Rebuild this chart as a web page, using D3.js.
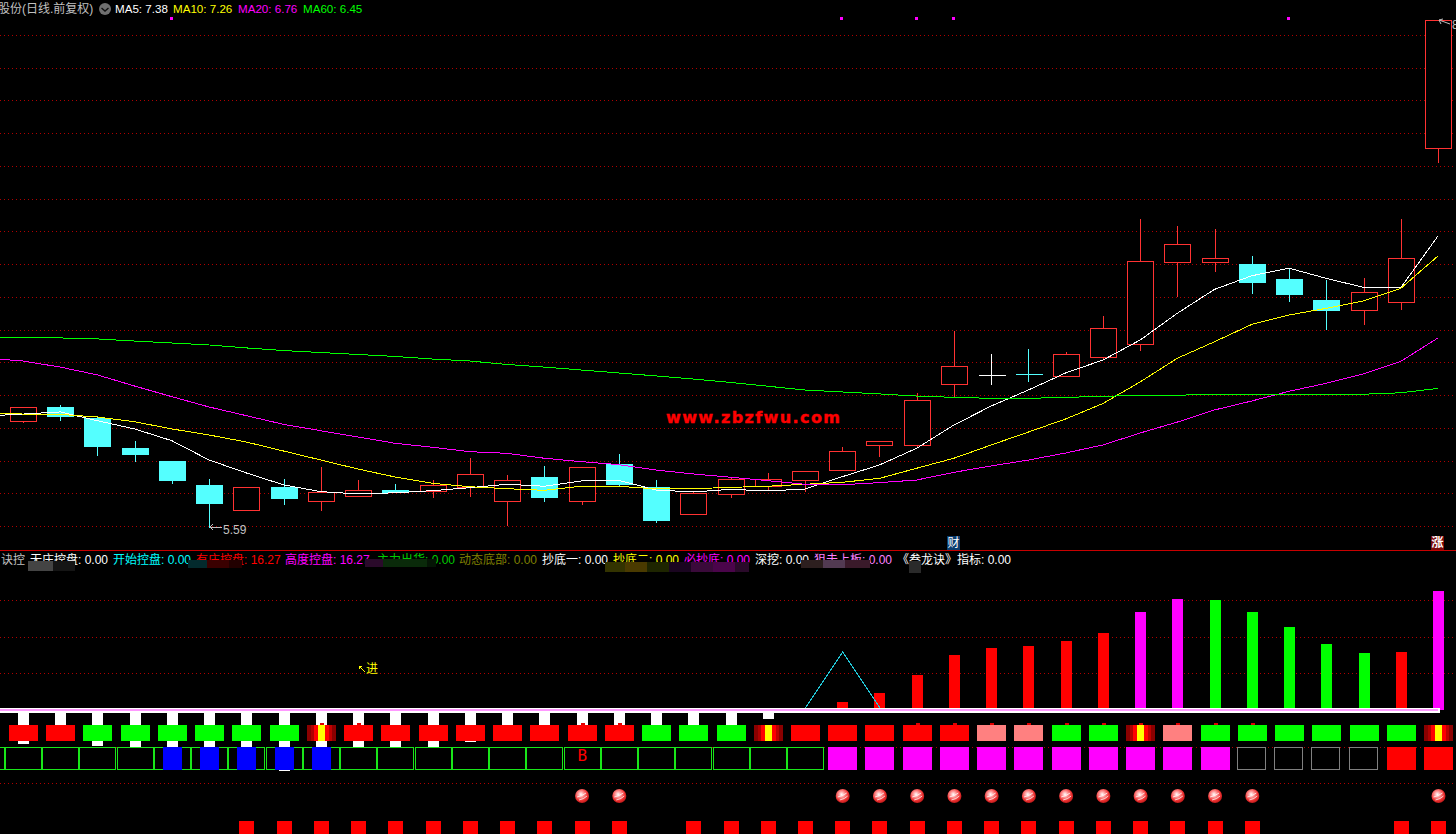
<!DOCTYPE html>
<html><head><meta charset="utf-8">
<script src="https://cdn.jsdelivr.net/npm/d3@7"></script>
<style>
html,body{margin:0;padding:0;background:#000;overflow:hidden}
svg{display:block}
text{font-family:"Liberation Sans","Noto Sans CJK SC",sans-serif;font-size:12px}
</style></head><body>
<script>
// ---- price panel data (day index 0..38) ----
const opens  =[6.243,6.327,6.258,6.077,5.997,5.851,5.696,5.838,5.755,5.785,5.82,5.816,5.838,5.755,5.899,5.755,5.979,5.838,5.675,5.797,5.846,5.883,5.944,6.097,6.097,6.466,6.523,6.528,6.518,6.634,6.714,7.211,7.215,7.201,7.109,6.981,6.918,6.967,7.908];
const closes =[6.325,6.274,6.091,6.042,5.883,5.742,5.836,5.773,5.806,5.818,5.808,5.849,5.918,5.879,5.779,5.959,5.858,5.638,5.80,5.885,5.885,5.934,6.056,6.118,6.368,6.576,6.523,6.526,6.649,6.808,7.217,7.321,7.236,7.093,7.019,6.922,7.028,7.236,8.69];
const highs  =[6.325,6.339,6.266,6.119,5.997,5.887,5.836,5.887,5.96,5.881,5.857,5.881,6.015,5.912,5.967,5.959,6.04,5.881,5.812,5.899,5.924,5.934,6.083,6.118,6.413,6.791,6.651,6.681,6.663,6.883,7.476,7.433,7.415,7.25,7.17,7.103,7.115,7.476,8.69];
const lows   =[6.231,6.243,6.03,5.993,5.858,5.59,5.696,5.728,5.693,5.779,5.802,5.773,5.779,5.602,5.748,5.728,5.844,5.62,5.669,5.773,5.812,5.81,5.944,6.023,6.077,6.386,6.463,6.482,6.518,6.62,6.669,6.997,7.154,7.019,6.97,6.799,6.83,6.922,7.816];
// moving averages, day index -1..38
const ma5 =[6.272,6.284,6.297,6.243,6.193,6.121,6.003,5.924,5.851,5.81,5.796,5.803,5.816,5.834,5.855,5.843,5.875,5.879,5.82,5.808,5.824,5.814,5.826,5.901,5.973,6.075,6.217,6.333,6.431,6.535,6.614,6.736,6.90,7.046,7.129,7.175,7.113,7.058,7.056,7.372];
const ma10=[6.292,6.284,6.282,6.266,6.237,6.193,6.156,6.113,6.058,6.003,5.948,5.899,5.861,5.84,5.828,5.818,5.843,5.843,5.826,5.828,5.836,5.843,5.855,5.867,5.891,5.953,6.014,6.095,6.174,6.254,6.348,6.48,6.625,6.726,6.832,6.889,6.93,6.975,7.052,7.25];
const ma20=[6.626,6.608,6.571,6.523,6.455,6.39,6.327,6.274,6.221,6.182,6.144,6.105,6.081,6.054,6.044,6.014,5.993,5.975,5.942,5.918,5.898,5.877,5.855,5.852,5.865,5.881,5.928,5.967,6.003,6.046,6.095,6.168,6.235,6.309,6.364,6.423,6.472,6.529,6.606,6.749];
const ma60=[6.749,6.749,6.749,6.743,6.73,6.718,6.706,6.688,6.672,6.66,6.648,6.636,6.62,6.608,6.587,6.571,6.553,6.535,6.517,6.498,6.477,6.454,6.431,6.419,6.407,6.394,6.386,6.38,6.38,6.386,6.392,6.399,6.399,6.405,6.405,6.405,6.405,6.405,6.414,6.441];
const priceTicks=d3.range(16).map(k=>+(5.6+k*0.2).toFixed(1));
const topMarkDays=[4,22,24,25,34];
// ---- legends ----
const maLegend=[["MA5: 7.38","#fff",115],["MA10: 7.26","#ff0",173],["MA20: 6.76","#f0f",238],["MA60: 6.45","#0f0",303]];
const subLegend=[["诀控","#c0c0c0",1],["无庄控盘: 0.00","#fff",30],["开始控盘: 0.00","#0ff",113],["有庄控盘: 16.27","#f00",196],["高度控盘: 16.27","#f0f",285],["主力出货: 0.00","#0c0",377],["动态底部: 0.00","#808000",459],["抄底一: 0.00","#fff",542],["抄底二: 0.00","#ff0",613],["必抄底: 0.00","#f0f",684],["深挖: 0.00","#fff",755],["狙击上板: 0.00","#ff80ff",814],["《叁龙诀》指标: 0.00","#fff",897]];
// ---- indicator panel data ----
const barDays =[22,23,24,25,26,27,28,29,30,31,32,33,34,35,36,37,38];
const barVals =[1.09,2.32,4.78,7.51,8.47,8.74,9.43,10.52,13.39,15.16,15.03,13.39,11.34,9.02,7.79,7.92,16.27];
const barKinds=["r","r","r","r","r","r","r","r","m","m","g","g","g","g","g","r","m"];
const whiteVals=[-4.64,-3.42,-4.92,-5.47,-5.74,-6.14,-6.83,-8.34,-6.56,-5.74,-5.47,-5.19,-4.37,-3.42,-2.74,-2.74,-2.74,-3.42,-3.42,-2.74,-1.23];
const peakDays=[21,22,23], peakVals=[0.3,7.92,0.3];
const subTicks=[-10,-5,5,10,15];
const signalRow=["R","R","G","G","G","G","G","G","X","R","R","R","R","R","R","R","R","G","G","G","X","R","R","R","R","R","P","P","G","G","X","P","G","G","G","G","G","G","X"];
const tickDays=[8,9,15,16,24,25,26,27,28,29,30,31,32,33];
const greenBoxDays=d3.range(-1,22);
const blueDays=[4,5,6,7,8];
const magentaDays=d3.range(22,33);
const greyDays=[33,34,35,36];
const redBoxDays=[37,38];
const ballDays=[15,16,22,23,24,25,26,27,28,29,30,31,32,33,38];
const squareDays=[6,7,8,9,10,11,12,13,14,15,16,18,19,20,21,22,23,24,25,26,27,28,29,30,31,32,33,37,38];

const W=1456,H=834;
const x=d3.scaleLinear().domain([0,38]).range([23.5,1438.5]);
const y=d3.scaleLinear().domain([5.6,8.6]).range([526,35]);
const ySub=d3.scaleLinear().domain([0,5]).range([710,673.4]);
const RED="#ff3232",CYAN="#54ffff",GRID="#b00000";
const px=v=>Math.round(v)+0.5;
const col0=d=>Math.floor(x(d));

const svg=d3.select("body").append("svg").attr("width",W).attr("height",H).attr("viewBox",`0 0 ${W} ${H}`);
const defs=svg.append("defs");
const gr=defs.append("linearGradient").attr("id","stripe");
[["#8b0000",0],["#8b0000",.14],["#b00000",.14],["#b00000",.24],["#f00",.24],["#f00",.38],["#ff0",.38],["#ff0",.62],["#f00",.62],["#f00",.76],["#c00000",.76],["#c00000",.86],["#8b0000",.86],["#8b0000",1]]
 .forEach(([c,o])=>gr.append("stop").attr("offset",o).attr("stop-color",c));
const bg=defs.append("radialGradient").attr("id","ball").attr("cx",.42).attr("cy",.38).attr("r",.65);
[["#ffffff",0],["#ffa0a0",.3],["#ee3030",.7],["#b81818",1]].forEach(([c,o])=>bg.append("stop").attr("offset",o).attr("stop-color",c));

// grids through axes
function grid(scale,ticks,x2){
  const g=svg.append("g").call(d3.axisRight(scale).tickValues(ticks).tickSize(x2).tickFormat(""));
  g.select(".domain").remove();
  g.selectAll("line").attr("stroke",GRID).attr("stroke-dasharray","1 3").attr("shape-rendering","crispEdges");
  g.selectAll(".tick").attr("transform",d=>`translate(0,${px(scale(d))})`);
}
grid(y,priceTicks,1454);
grid(ySub,subTicks,1456);

// panel divider
svg.append("line").attr("x1",0).attr("x2",W).attr("y1",550.5).attr("y2",550.5).attr("stroke","#c80000").attr("shape-rendering","crispEdges");

// candles
const days=d3.range(opens.length);
const cg=svg.append("g").attr("shape-rendering","crispEdges");
days.forEach(i=>{
  const o=opens[i],c=closes[i],cx=col0(i)+.5;
  const col=c>o?RED:(c<o?CYAN:"#fff");
  const t=Math.round(y(Math.max(o,c))),b=Math.round(y(Math.min(o,c)));
  cg.append("line").attr("x1",cx).attr("x2",cx).attr("y1",y(highs[i])).attr("y2",t).attr("stroke",col);
  cg.append("line").attr("x1",cx).attr("x2",cx).attr("y1",b).attr("y2",y(lows[i])).attr("stroke",col);
  if(b-t<=1){
    cg.append("line").attr("x1",cx-13).attr("x2",cx+14).attr("y1",t+.5).attr("y2",t+.5).attr("stroke",col);
  }else if(c>o){
    cg.append("rect").attr("x",cx-13).attr("y",t+.5).attr("width",26).attr("height",b-t).attr("fill","#000").attr("stroke",col);
  }else{
    cg.append("rect").attr("x",cx-13.5).attr("y",t).attr("width",27).attr("height",b-t+1).attr("fill",col);
  }
});

// moving averages
const maDays=d3.range(-1,39);
const line=d3.line().x((d,i)=>x(maDays[i])-.5).y(d=>y(d));
[[ma5,"#fff"],[ma10,"#ff0"],[ma20,"#f0f"],[ma60,"#0f0"]].forEach(([s,c])=>{
  svg.append("path").attr("d",line(s)).attr("fill","none").attr("stroke",c).attr("stroke-width",1).attr("shape-rendering","crispEdges");
});

// top marks
svg.append("g").selectAll("rect").data(topMarkDays).join("rect")
  .attr("x",d=>col0(d)-2).attr("y",17).attr("width",3).attr("height",3).attr("fill","#f0f");

// header
const head=svg.append("g");
head.append("text").attr("x",-2).attr("y",13).attr("fill","#c0c0c0").text("股份(日线.前复权)");
head.append("circle").attr("cx",105).attr("cy",9).attr("r",6).attr("fill","#707070");
head.append("path").attr("d","M101.5 8l3.5 3 3.5-3").attr("fill","none").attr("stroke","#111").attr("stroke-width",1.4);
maLegend.forEach(([t,c,xp])=>head.append("text").attr("x",xp).attr("y",13).attr("fill",c).style("font-size","11.6px").text(t));

// annotations
function arrow(x1,y1,x2,col){
  svg.append("path").attr("d",`M${x1} ${y1}H${x2}M${x1+3} ${y1-3}L${x1} ${y1}L${x1+3} ${y1+3}`).attr("fill","none").attr("stroke",col).attr("shape-rendering","crispEdges");
}
arrow(col0(5)+1,527,222,"#c0c0c0");
svg.append("text").attr("x",223).attr("y",534).attr("fill","#c0c0c0").text("5.59");
svg.append("path").attr("d","M1439 20L1450 24M1439 20l4-1M1439 20l2 4").attr("fill","none").attr("stroke","#c0c0c0");
svg.append("text").attr("x",1452).attr("y",29).attr("fill","#c0c0c0").text("8.71");
svg.append("text").attr("x",666).attr("y",423).attr("fill","#f00").attr("stroke","#f00").attr("stroke-width",.4)
  .style("font-family","'DejaVu Sans'").style("font-weight","bold").style("font-size","16px").attr("textLength",174).attr("lengthAdjust","spacing").text("www.zbzfwu.com");
// event badges
svg.append("rect").attr("x",947).attr("y",536).attr("width",13).attr("height",14).attr("fill","#0a3c6e");
svg.append("text").attr("x",947.5).attr("y",547).attr("fill","#fff").text("财");
svg.append("rect").attr("x",1431).attr("y",536).attr("width",13).attr("height",14).attr("fill","#7a0808");
svg.append("text").attr("x",1431.5).attr("y",547).attr("fill","#fff").style("font-weight","bold").text("涨");

// sub legend and the smudges over it
const lg=svg.append("g");
subLegend.forEach(([t,c,xp])=>lg.append("text").attr("x",xp).attr("y",564).attr("fill",c).text(t));
const smudges=[[28,561,25,10,"#444"],[53,561,22,10,"#151515"],[188,560,19,8,"#032a2d"],[207,560,22,8,"#3a0000"],[229,560,13,8,"#220000"],
 [365,559,18,8,"#2a0a2a"],[383,559,44,8,"#0a2a0a"],[427,559,9,8,"#051505"],[605,562,20,10,"#333300"],[625,562,22,10,"#4a3a00"],[647,562,22,10,"#1e2500"],
 [669,562,22,10,"#1a0520"],[691,562,22,10,"#3a0a3a"],[713,562,22,10,"#4a054a"],[735,562,14,10,"#2a0a2a"],[801,560,22,8,"#2d1f1f"],[823,560,22,8,"#523a52"],[845,560,25,8,"#3a1a2a"],[909,561,12,12,"#2a2a2a"]];
lg.selectAll("rect").data(smudges).join("rect").attr("x",d=>d[0]).attr("y",d=>d[1]).attr("width",d=>d[2]).attr("height",d=>d[3]).attr("fill",d=>d[4]);

// yellow entry note
svg.append("path").attr("d","M365 672L359 666M359 666h3M359 666v3").attr("fill","none").attr("stroke","#ff0").attr("shape-rendering","crispEdges");
svg.append("text").attr("x",366).attr("y",673).attr("fill","#ff0").text("进");

// white stubs under the zero line
const sg=svg.append("g").attr("shape-rendering","crispEdges");
sg.selectAll("rect.w").data(whiteVals).join("rect").attr("class","w")
  .attr("x",(d,i)=>col0(i)-5).attr("y",ySub(0)).attr("width",11).attr("height",d=>ySub(d)-ySub(0)).attr("fill","#fff");

// indicator bars
const kindCol={r:"#f00",m:"#f0f",g:"#0f0"};
sg.selectAll("rect.b").data(barVals).join("rect").attr("class","b")
  .attr("x",(d,i)=>col0(barDays[i])-5).attr("y",d=>ySub(d)).attr("width",11).attr("height",d=>ySub(0)-ySub(d)).attr("fill",(d,i)=>kindCol[barKinds[i]]);
svg.append("path").attr("d",d3.line().x((d,i)=>x(peakDays[i])).y(d=>ySub(d))(peakVals)).attr("fill","none").attr("stroke","#22c8d8").attr("shape-rendering","crispEdges");

// zero band
sg.append("rect").attr("x",0).attr("y",708).attr("width",1440).attr("height",5).attr("fill","#fff");
sg.append("rect").attr("x",0).attr("y",709).attr("width",1438).attr("height",2).attr("fill","#ff99ff");

// signal row
const sigCol={R:"#f00",G:"#0f0",P:"#ff8080",X:"url(#stripe)"};
sg.selectAll("rect.s").data(signalRow).join("rect").attr("class","s")
  .attr("x",(d,i)=>col0(i)-14).attr("y",725).attr("width",29).attr("height",16).attr("fill",d=>sigCol[d]);
sg.selectAll("rect.t").data(tickDays).join("rect").attr("class","t")
  .attr("x",d=>col0(d)-1).attr("y",723).attr("width",4).attr("height",2).attr("fill","#e00000");

// box row
sg.selectAll("rect.gb").data(greenBoxDays).join("rect").attr("class","gb")
  .attr("x",d=>col0(d)-18+.5).attr("y",747.5).attr("width",36).attr("height",22).attr("fill","#000").attr("stroke","#19e619");
sg.selectAll("rect.bl").data(blueDays).join("rect").attr("class","bl")
  .attr("x",d=>col0(d)-9).attr("y",747).attr("width",19).attr("height",23).attr("fill","#00f");
sg.selectAll("rect.mg").data(magentaDays).join("rect").attr("class","mg")
  .attr("x",d=>col0(d)-14).attr("y",747).attr("width",29).attr("height",23).attr("fill","#f0f");
sg.selectAll("rect.gy").data(greyDays).join("rect").attr("class","gy")
  .attr("x",d=>col0(d)-15+.5).attr("y",747.5).attr("width",28).attr("height",22).attr("fill","#000").attr("stroke","#808080");
sg.selectAll("rect.rd").data(redBoxDays).join("rect").attr("class","rd")
  .attr("x",d=>col0(d)-14).attr("y",747).attr("width",29).attr("height",23).attr("fill","#f00");
svg.append("text").attr("x",x(15)-4.5).attr("y",761).attr("fill","#f00").style("font-family","'DejaVu Sans Mono'").style("font-size","16px").text("B");

// balls
const bl=svg.append("g").selectAll("g").data(ballDays).join("g").attr("transform",d=>`translate(${x(d)},796)`);
bl.append("circle").attr("r",7).attr("fill","url(#ball)");
bl.append("path").attr("d","M-5 1Q0 0 4-3M-3 4Q2 3 5 0").attr("fill","none").attr("stroke","#fff").attr("stroke-opacity",.75).attr("stroke-width",1);

// squares at the bottom
sg.selectAll("rect.q").data(squareDays).join("rect").attr("class","q")
  .attr("x",d=>col0(d)-7).attr("y",821).attr("width",15).attr("height",13).attr("fill","#f00");
</script>
</body></html>
